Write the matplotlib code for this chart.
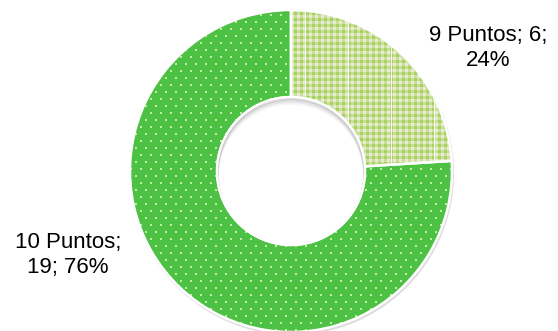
import numpy as np
import matplotlib
matplotlib.use("Agg")
import matplotlib.pyplot as plt
from matplotlib.patches import Circle

categories = ["9 Puntos", "10 Puntos"]
values = [6, 19]

W, H = 558, 331
CX, CY = 291, H - 171
R_OUT, R_IN = 161, 74

plt.rcParams["font.family"] = ["Liberation Sans", "DejaVu Sans"]

fig = plt.figure(figsize=(W / 100, H / 100), dpi=100)
ax = fig.add_axes([0, 0, 1, 1])

# textures (pixel grids)
yy, xx = np.mgrid[0:H, 0:W]

# gingham
sx = (xx // 3) % 2 == 0
sy = (yy // 3) % 2 == 0
ging = np.empty((H, W, 3))
ging[:] = (0.91, 0.92, 0.84)
ging[sx ^ sy] = (0.79, 0.88, 0.60)
ging[sx & sy] = (0.66, 0.82, 0.38)
ging[((xx - 305) % 43) < 1] = (0.97, 0.97, 0.94)

# dotted green
dots = np.empty((H, W, 3))
dots[:] = (0.30, 0.76, 0.27)
row = yy // 7
on = ((yy % 7) < 2) & (((xx + (row % 2) * 5) % 10) < 2)
dots[on] = (0.76, 0.93, 0.66)

# soft shadow
ax.add_patch(Circle((CX + 1, CY - 2), R_OUT + 1, facecolor="#dcdcdc", edgecolor="none", zorder=0))
hole = Circle((CX, CY), R_IN, facecolor="white", edgecolor="none", zorder=1)
ax.add_patch(hole)

wedges, _ = ax.pie(values, startangle=90, counterclock=False, center=(CX, CY),
                   radius=R_OUT, wedgeprops=dict(width=R_OUT - R_IN, linewidth=0))

for w, tex in zip(wedges, [ging, dots]):
    im = ax.imshow(tex, extent=(0, W, 0, H), origin="upper", interpolation="nearest", zorder=2)
    im.set_clip_path(w)

ax.pie(values, startangle=90, counterclock=False, center=(CX, CY), radius=R_OUT,
       wedgeprops=dict(width=R_OUT - R_IN, facecolor="none", edgecolor="white",
                       linewidth=1.8, zorder=3))

# inner hole shadow (top inside edge)
for k, a in [(2, 0.35), (4, 0.2), (6, 0.1)]:
    sh = Circle((CX, CY - k), R_IN, facecolor="none", edgecolor="#a0a0a0",
                linewidth=2.5, alpha=a, zorder=4)
    ax.add_patch(sh)
    sh.set_clip_path(hole)
ax.add_patch(Circle((CX, CY), R_IN, facecolor="none", edgecolor="white", linewidth=1.5, zorder=5))

total = sum(values)
pct = [round(100 * v / total) for v in values]
labels = [f"{categories[0]}; {values[0]};\n{pct[0]}%",
          f"{categories[1]};\n{values[1]}; {pct[1]}%"]
ax.text(488, H - 48, labels[0], ha="center", va="center", fontsize=16, linespacing=1.25)
ax.text(68, H - 255, labels[1], ha="center", va="center", fontsize=16, linespacing=1.25)

ax.set_xlim(0, W)
ax.set_ylim(0, H)
ax.set_aspect("equal")
ax.axis("off")

fig.savefig("out.png", dpi=100)
